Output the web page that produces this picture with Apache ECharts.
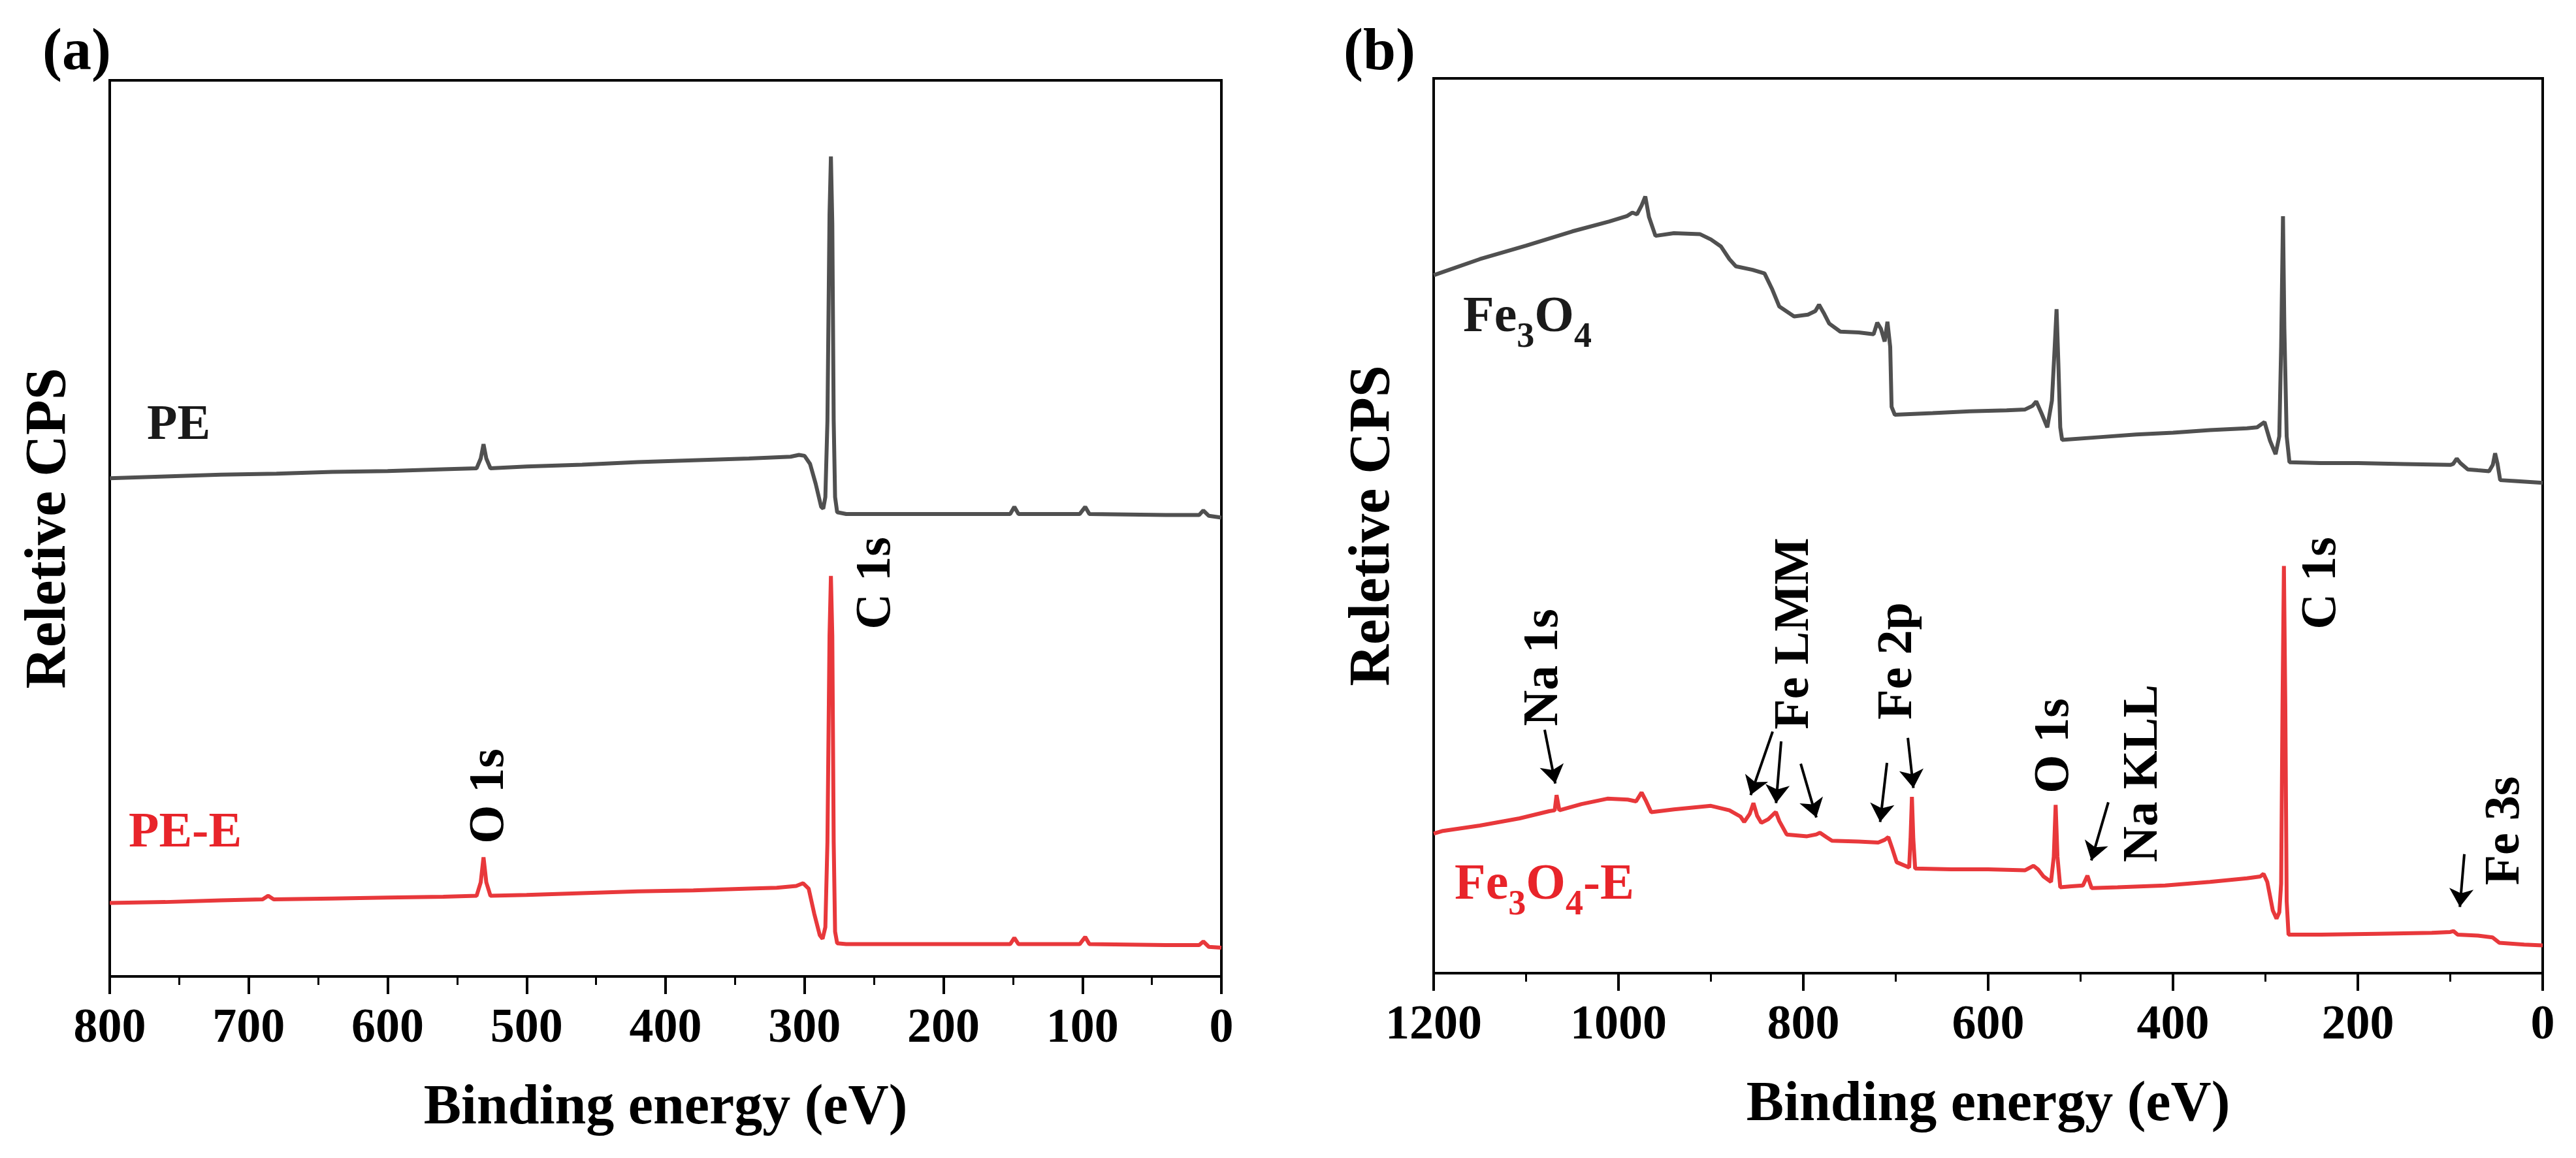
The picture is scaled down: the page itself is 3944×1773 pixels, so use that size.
<!DOCTYPE html>
<html lang="en">
<head>
    <meta charset="UTF-8">
    <title>XPS survey spectra</title>
    <script src="https://cdn.jsdelivr.net/npm/echarts@6/dist/echarts.min.js"></script>
    <style>
        html, body {
            margin: 0;
            padding: 0;
            background: #fff;
        }

        #chart {
            width: 3944px;
            height: 1773px;
        }
    </style>
</head>
<body>
<div id="chart"></div>
<script>
    // (a) PE / PE-E, [binding energy eV, relative cps]
    var pe = [[800, 55.6], [760, 55.8], [720, 56.0], [680, 56.1], [640, 56.3], [600, 56.4], [560, 56.6], [536, 56.7], [533, 57.8], [531, 59.4], [529, 57.8], [526, 56.7], [500, 56.9], [460, 57.1], [420, 57.4], [380, 57.6], [340, 57.8], [310, 58.0], [304, 58.2], [300, 58.1], [296, 57.2], [292, 55.0], [288, 52.4], [286.5, 52.2], [285, 53.5], [283.5, 62], [282, 85], [281, 91.5], [280, 84], [279, 62], [278, 53.5], [276.5, 51.8], [270, 51.6], [220, 51.6], [152, 51.6], [149, 52.4], [146, 51.6], [102, 51.6], [98, 52.4], [95, 51.6], [40, 51.5], [16, 51.5], [13, 52.0], [9, 51.4], [0, 51.2]]
    var peE = [[800, 8.2], [760, 8.3], [720, 8.5], [690, 8.6], [686, 9.0], [682, 8.6], [640, 8.7], [600, 8.8], [560, 8.9], [536, 9.0], [533, 10.5], [531, 13.3], [529, 10.5], [526, 9.0], [500, 9.1], [460, 9.3], [420, 9.5], [380, 9.6], [340, 9.8], [320, 9.9], [306, 10.1], [301, 10.4], [297, 9.8], [293, 7.0], [289, 4.6], [287, 4.2], [285, 5.5], [283.5, 15], [282, 38], [281, 44.7], [280, 38], [279, 15], [278, 5], [276.5, 3.7], [270, 3.6], [200, 3.6], [152, 3.6], [149, 4.3], [146, 3.6], [102, 3.6], [98, 4.4], [95, 3.6], [40, 3.5], [16, 3.5], [13, 3.9], [9, 3.3], [0, 3.2]]

    // (b) Fe3O4 / Fe3O4-E
    var fe3o4 = [[1200, 78.0], [1150, 79.8], [1100, 81.3], [1050, 82.9], [1010, 84.0], [991, 84.6], [985, 85.0], [980, 84.8], [975, 85.8], [971, 86.8], [967, 84.5], [960, 82.4], [940, 82.7], [912, 82.6], [900, 82.0], [889, 81.2], [880, 79.8], [873, 79.0], [855, 78.6], [842, 78.2], [834, 76.5], [826, 74.5], [810, 73.4], [795, 73.6], [787, 74.0], [783, 74.7], [778, 73.8], [772, 72.6], [760, 71.7], [740, 71.6], [724, 71.4], [720, 72.7], [716, 72.0], [712, 70.6], [709, 72.8], [706, 70], [704.5, 63.3], [701, 62.4], [660, 62.6], [620, 62.8], [580, 62.9], [560, 63.0], [552, 63.4], [548, 63.9], [542, 62.5], [536, 61.0], [531, 64], [528, 70], [526, 74.2], [524, 68], [522, 61], [520, 59.6], [480, 59.9], [440, 60.2], [400, 60.4], [360, 60.7], [320, 60.9], [309, 61.0], [301, 61.6], [295, 59.5], [289, 58.0], [285, 60], [283, 70], [281, 84.6], [279.5, 72], [277, 60], [274, 57.1], [240, 57.0], [200, 57.0], [150, 56.9], [100, 56.8], [97, 56.9], [93, 57.5], [89, 57.0], [81, 56.3], [70, 56.2], [58, 56.1], [54, 56.8], [51.5, 58.1], [49, 57.0], [46, 55.1], [30, 55.0], [0, 54.8]]
    var fe3o4E = [[1200, 15.6], [1190, 15.9], [1150, 16.5], [1107, 17.3], [1075, 18.1], [1069, 18.2], [1067, 19.9], [1064, 18.2], [1040, 18.9], [1012, 19.5], [990, 19.4], [981, 19.2], [975, 20.2], [970, 19.2], [964.6, 18.0], [940, 18.3], [900, 18.7], [880, 18.2], [868, 17.5], [864, 16.9], [858, 17.8], [854, 19.0], [850, 17.6], [845.5, 16.8], [838, 17.2], [832, 17.8], [829.7, 18.0], [826, 17.0], [818, 15.5], [796, 15.3], [786, 15.5], [782, 15.7], [775, 15.2], [769, 14.8], [740, 14.7], [719, 14.6], [712, 14.9], [708, 15.2], [704, 14.0], [699, 12.4], [690, 12.0], [685.5, 11.8], [684, 15], [682.5, 19.7], [681, 15], [679, 11.7], [640, 11.6], [600, 11.6], [560, 11.5], [551, 12.0], [546, 11.6], [540, 10.8], [532, 10.2], [529, 13], [527, 18.8], [525, 13], [522, 9.6], [510, 9.7], [497.5, 9.8], [492.6, 10.9], [488, 9.5], [460, 9.6], [408.5, 9.8], [360, 10.2], [320, 10.6], [305.6, 10.8], [302, 11.1], [298, 10.2], [292, 7.0], [288, 6.1], [285, 6.8], [283, 10], [281.5, 30], [280, 45.5], [278.5, 30], [277, 8], [275, 4.3], [240, 4.3], [180, 4.4], [120, 4.5], [100, 4.6], [96.5, 4.7], [92, 4.3], [70, 4.2], [54.4, 4.0], [47, 3.4], [20, 3.2], [0, 3.1]]

    // arrows in (b): [tail eV, tail cps, head eV, head cps]
    var arrowsB = [[1079.9, 27.2, 1068.4, 21.2], [833.2, 27.0, 857.0, 19.9], [824.0, 25.9, 829.5, 19.0], [802.8, 23.4, 785.9, 17.4], [709.5, 23.5, 716.9, 16.9], [686.9, 26.3, 680.9, 20.7], [470.0, 19.1, 488.4, 12.6], [84.8, 13.3, 89.6, 7.4]]

    var FONT = '"Liberation Serif", "Times New Roman", serif'
    var GRAY = '#505050'
    var RED = '#e8383b'
    var RED_TEXT = '#e8242a'

    var chart = echarts.init(document.getElementById('chart'))

    function makeXAxis (grid, max, step) {
        return {
            gridIndex: grid,
            type: 'value',
            min: 0,
            max: max,
            interval: step,
            inverse: true,
            axisLine: {lineStyle: {color: '#000', width: 4}},
            axisTick: {length: 27, lineStyle: {color: '#000', width: 4}},
            minorTick: {show: true, splitNumber: 2, length: 13, lineStyle: {color: '#000', width: 3}},
            splitLine: {show: false},
            minorSplitLine: {show: false},
            axisLabel: {
                fontFamily: FONT, fontWeight: 'bold', fontSize: 74, color: '#000', margin: 44,
                formatter: function (v) { return String(v) }
            },
            name: 'Binding energy (eV)',
            nameLocation: 'middle',
            nameGap: 160,
            nameTextStyle: {fontFamily: FONT, fontWeight: 'bold', fontSize: 86, color: '#000'}
        }
    }

    function makeYAxis (grid) {
        return {
            gridIndex: grid,
            type: 'value',
            min: 0,
            max: 100,
            axisLine: {show: true, lineStyle: {color: '#000', width: 4}},
            axisTick: {show: false},
            axisLabel: {show: false},
            splitLine: {show: false},
            name: 'Reletive CPS',
            nameLocation: 'middle',
            nameGap: 48,
            nameTextStyle: {fontFamily: FONT, fontWeight: 'bold', fontSize: 88, color: '#000'}
        }
    }

    function lineSeries (idx, data, color) {
        return {
            type: 'line',
            xAxisIndex: idx,
            yAxisIndex: idx,
            data: data,
            showSymbol: false,
            symbol: 'none',
            silent: true,
            lineStyle: {color: color, width: 6},
            z: 3
        }
    }

    // labels: [text, x, y, rotated, colour]
    var labels = [
        ['PE', 225, 652, false, '#1a1a1a'],
        ['PE-E', 197, 1276, false, RED_TEXT],
        ['C 1s', 1342, 893, true, '#000'],
        ['O 1s', 750, 1219, true, '#000'],
        ['Na 1s', 2364, 1022, true, '#000'],
        ['Fe LMM', 2748, 970, true, '#000'],
        ['Fe 2p', 2906, 1012, true, '#000'],
        ['O 1s', 3146, 1142, true, '#000'],
        ['Na KLL', 3282, 1184, true, '#000'],
        ['C 1s', 3555, 893, true, '#000'],
        ['Fe 3s', 3836, 1272, true, '#000']
    ]

    var graphics = labels.map(function (l) {
        return {
            type: 'text',
            x: l[1],
            y: l[2],
            rotation: l[3] ? Math.PI / 2 : 0,
            style: {
                text: l[0],
                fill: l[4],
                font: 'bold 76px ' + FONT,
                align: l[3] ? 'center' : 'left',
                verticalAlign: 'middle'
            }
        }
    })

    // chemical formula with lowered subscripts, built from separate text pieces
    var measureCtx = document.createElement('canvas').getContext('2d')
    var MAIN_FONT = 'bold 78px ' + FONT
    var SUB_FONT = 'bold 54px ' + FONT

    function formula (x, y, color, parts) {
        var children = []
        var cx = 0
        parts.forEach(function (p) {
            var font = p[1] ? SUB_FONT : MAIN_FONT
            measureCtx.font = font
            children.push({
                type: 'text',
                x: cx,
                y: p[1] ? 30 : 0,
                style: {text: p[0], fill: color, font: font, align: 'left', verticalAlign: 'middle'}
            })
            cx += measureCtx.measureText(p[0]).width
        })
        return {type: 'group', x: x, y: y, children: children}
    }

    graphics.push(formula(2240, 487, '#1a1a1a', [['Fe', false], ['3', true], ['O', false], ['4', true]]))
    graphics.push(formula(2227, 1356, RED_TEXT, [['Fe', false], ['3', true], ['O', false], ['4', true], ['-E', false]]))
    graphics.push({type: 'text', x: 65, y: 83, style: {text: '(a)', fill: '#000', font: 'bold 90px ' + FONT, align: 'left', verticalAlign: 'middle'}})
    graphics.push({type: 'text', x: 2057, y: 83, style: {text: '(b)', fill: '#000', font: 'bold 90px ' + FONT, align: 'left', verticalAlign: 'middle'}})

    var arrowSeries = lineSeries(1, fe3o4E, RED)
    arrowSeries.markLine = {
        silent: true,
        symbol: ['none', 'arrow'],
        symbolSize: 28,
        label: {show: false},
        lineStyle: {color: '#000', width: 4, type: 'solid'},
        data: arrowsB.map(function (a) {
            return [{coord: [a[0], a[1]]}, {coord: [a[2], a[3]]}]
        })
    }

    var option = {
        animation: false,
        backgroundColor: '#fff',
        grid: [
            {left: 168, top: 123, width: 1702, height: 1372, show: true, borderColor: '#000', borderWidth: 4},
            {left: 2195, top: 120, width: 1698, height: 1370, show: true, borderColor: '#000', borderWidth: 4}
        ],
        xAxis: [makeXAxis(0, 800, 100), makeXAxis(1, 1200, 200)],
        yAxis: [makeYAxis(0), makeYAxis(1)],
        series: [
            lineSeries(0, pe, GRAY),
            lineSeries(0, peE, RED),
            lineSeries(1, fe3o4, GRAY),
            arrowSeries
        ],
        graphic: graphics
    }
    chart.setOption(option)
</script>
</body>
</html>
